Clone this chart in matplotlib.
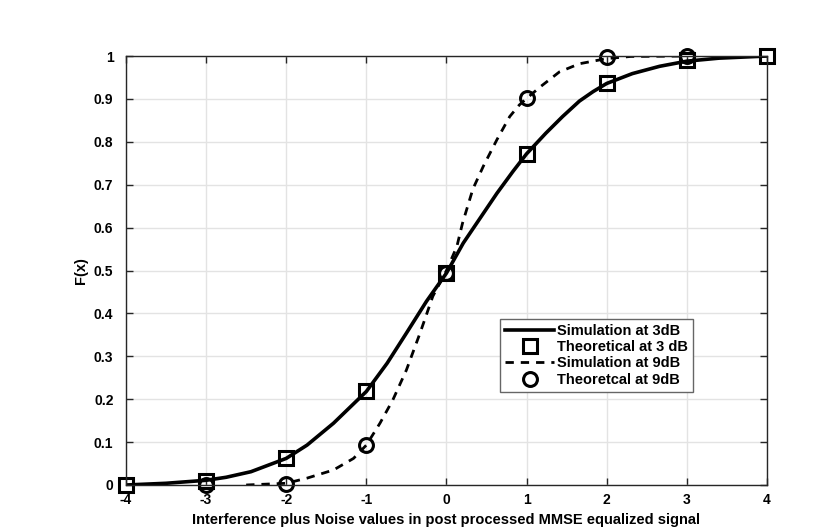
import matplotlib
matplotlib.use("Agg")
import matplotlib.pyplot as plt

plt.rcParams['font.family'] = ['Liberation Sans', 'DejaVu Sans']
plt.rcParams['font.weight'] = 'bold'

# simulated CDF at 3 dB
sim3_x = [-4, -3.5, -3, -2.75, -2.44, -2, -1.74, -1.41, -1, -0.74, -0.5, -0.25, 0,
          0.21, 0.42, 0.63, 0.83, 1, 1.24, 1.45, 1.66, 1.83, 2, 2.32, 2.66, 3, 3.4, 4]
sim3_y = [0.0, 0.004, 0.011, 0.018, 0.031, 0.062, 0.093, 0.144, 0.218, 0.284, 0.354, 0.428, 0.494,
          0.564, 0.622, 0.68, 0.731, 0.772, 0.82, 0.859, 0.895, 0.917, 0.936, 0.959, 0.976, 0.988, 0.995, 1.0]

# simulated CDF at 9 dB
sim9_x = [-2.5, -2, -1.74, -1.41, -1.16, -1, -0.83, -0.67, -0.5, -0.33, -0.17, 0,
          0.13, 0.2, 0.33, 0.46, 0.63, 0.79, 0.91, 1, 1.17, 1.41, 1.66, 2, 2.3, 3]
sim9_y = [0.0, 0.004, 0.016, 0.035, 0.062, 0.093, 0.144, 0.198, 0.268, 0.354, 0.44, 0.5,
          0.556, 0.61, 0.69, 0.743, 0.805, 0.859, 0.886, 0.901, 0.928, 0.963, 0.982, 0.994, 0.999, 1.0]

# theoretical points
th_x = [-4, -3, -2, -1, 0, 1, 2, 3, 4]
th3_y = [0.0, 0.01, 0.062, 0.22, 0.495, 0.772, 0.936, 0.99, 1.0]
th9_x = [-3, -2, -1, 0, 1, 2, 3]
th9_y = [0.0, 0.003, 0.094, 0.495, 0.902, 0.997, 0.999]

fig = plt.figure(figsize=(8.3, 5.27), dpi=100)
ax = fig.add_axes([0.1518, 0.0797, 0.7722, 0.814])

ax.plot(sim3_x, sim3_y, 'k-', lw=2.6, label='Simulation at 3dB')
ax.plot(th_x, th3_y, 'ks', ms=9.5, mfc='none', mew=2.2, clip_on=False, label='Theoretical at 3 dB')
ax.plot(sim9_x, sim9_y, 'k--', lw=2, dashes=(3, 2.5), label='Simulation at 9dB')
ax.plot(th9_x, th9_y, 'ko', ms=10, mfc='none', mew=2.2, clip_on=False, label='Theoretcal at 9dB')

ax.set_xlim(-4, 4)
ax.set_ylim(0, 1)
ax.set_xticks(th_x)
ax.set_xticklabels([str(v) for v in th_x])
yt = [i / 10 for i in range(11)]
ax.set_yticks(yt)
ax.set_yticklabels(['0', '0.1', '0.2', '0.3', '0.4', '0.5', '0.6', '0.7', '0.8', '0.9', '1'])

ax.grid(True, color='#e3e3e3', lw=1)
ax.set_axisbelow(True)
ax.tick_params(direction='in', top=True, right=True, length=5, width=1,
               color='#262626', labelsize=10)
ax.tick_params(axis='x', pad=6)
ax.tick_params(axis='y', pad=9)
for s in ax.spines.values():
    s.set_color('#262626')
    s.set_linewidth(1)

ax.set_xlabel('Interference plus Noise values in post processed MMSE equalized signal',
              fontsize=10.5, fontweight='bold', labelpad=4)
ax.set_ylabel('F(x)', fontsize=10.5, fontweight='bold', labelpad=4)

leg = ax.legend(loc='upper left', bbox_to_anchor=(0.583, 0.387), fontsize=10.5,
                frameon=True, fancybox=False, framealpha=1, edgecolor='#666666',
                handlelength=3.4, handletextpad=0.2, borderpad=0.35, labelspacing=0.15,
                borderaxespad=0)
leg.get_frame().set_linewidth(1)

fig.savefig('out.png', dpi=100)
